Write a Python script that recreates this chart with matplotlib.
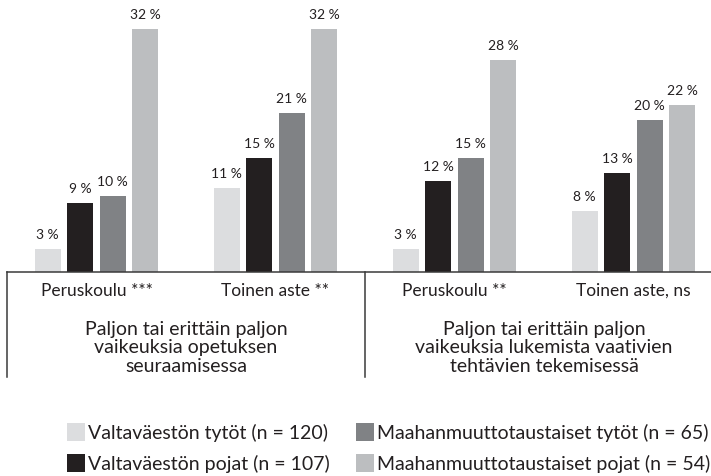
import matplotlib
matplotlib.use("Agg")
import matplotlib.pyplot as plt
from matplotlib.patches import Rectangle

plt.rcParams["font.family"] = ["Lato", "DejaVu Sans"]

# data
groups = ["Peruskoulu ***", "Toinen aste **", "Peruskoulu **", "Toinen aste, ns"]
series = [
    "Valtaväestön tytöt (n = 120)",
    "Valtaväestön pojat (n = 107)",
    "Maahanmuuttotaustaiset tytöt (n = 65)",
    "Maahanmuuttotaustaiset pojat (n = 54)",
]
values = [
    [3, 11, 3, 8],
    [9, 15, 12, 13],
    [10, 21, 15, 20],
    [32, 32, 28, 22],
]
panel_titles = [
    "Paljon tai erittäin paljon\nvaikeuksia opetuksen\nseuraamisessa",
    "Paljon tai erittäin paljon\nvaikeuksia lukemista vaativien\ntehtävien tekemisessä",
]
colors = ["#dcdddf", "#231f20", "#808285", "#bcbec0"]
text_col = "#231f20"
line_col = "#3a3a3a"

W, H = 711, 477
BASE_Y = 272.5          # pixel row of the baseline
YMAX = 36.0
fig = plt.figure(figsize=(W / 100, H / 100), dpi=100)
ax = fig.add_axes([7 / W, (H - BASE_Y) / H, 704 / W, BASE_Y / H])
ax.set_xlim(-0.5, 3.433)
ax.set_ylim(0, YMAX)
ax.axis("off")

unit = BASE_Y / YMAX  # pixels per percent


def ydata(ypx):
    return (BASE_Y - ypx) / unit


pitch = 0.1816
width = 0.145
for i, (vals, col) in enumerate(zip(values, colors)):
    xs = [g + (i - 1.5) * pitch for g in range(len(groups))]
    ax.bar(xs, vals, width=width, color=col, linewidth=0)
    for x, v in zip(xs, vals):
        ax.text(x, v + 9 / unit, f"{v} %", ha="center", va="bottom",
                fontsize=10, color=text_col)

# frame lines below the bars
ax.plot([-0.5, 3.433], [0, 0], color=line_col, lw=1.1, clip_on=False)
for xv in (-0.5, 1.5):
    ax.plot([xv, xv], [0, ydata(378)], color=line_col, lw=1.1, clip_on=False)

for g, name in enumerate(groups):
    ax.text(g, ydata(291), name, ha="center", va="center", fontsize=12.5,
            color=text_col, clip_on=False)

for p, title in enumerate(panel_titles):
    ax.text(2 * p + 0.5, ydata(348), title, ha="center", va="center",
            fontsize=14, color=text_col, linespacing=1.1, clip_on=False)

# legend drawn by hand, two columns
leg_pos = [(67, 433), (67, 464), (356, 433), (356, 464)]
for (lx, ly), col, lab in zip(leg_pos, colors, series):
    fig.patches.append(Rectangle((lx / W, 1 - (ly + 9) / H), 18 / W, 18 / H,
                                 transform=fig.transFigure, color=col, lw=0))
    fig.text((lx + 21) / W, 1 - ly / H, lab, ha="left", va="center",
             fontsize=14, color=text_col)

fig.savefig("out.png", dpi=100)
